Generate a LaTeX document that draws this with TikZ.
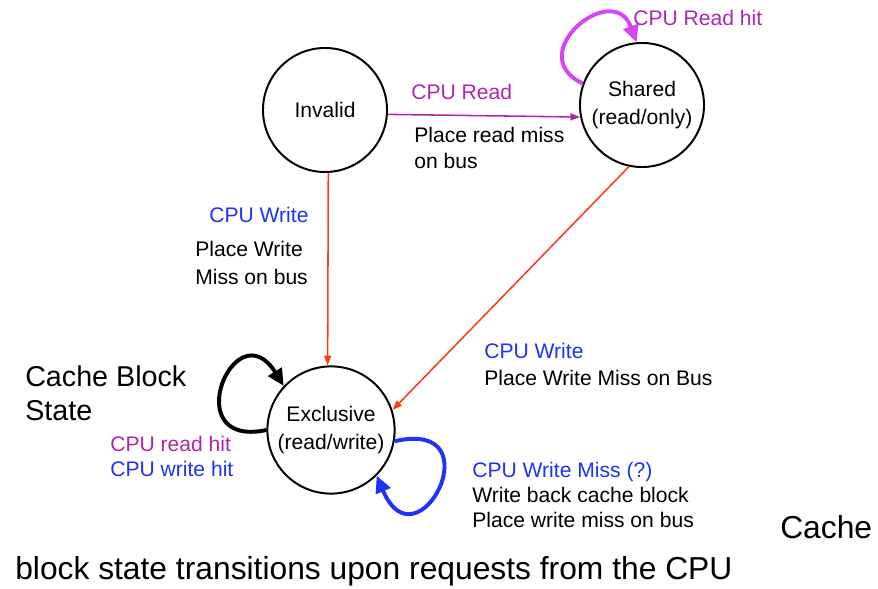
\documentclass[tikz,border=0pt]{standalone}
\usepackage{fontspec}
\setmainfont{Liberation Sans}
\usetikzlibrary{arrows.meta}
\definecolor{cpupurple}{RGB}{170,40,170}
\definecolor{loopmagenta}{RGB}{215,70,245}
\definecolor{cpublue}{RGB}{30,50,250}
\definecolor{busred}{RGB}{250,60,30}
\tikzset{
	state/.style={circle, draw, line width=1.4pt, minimum size=3.1cm, inner sep=0pt, align=center, font=\fontsize{15}{19.5}\selectfont},
	lbl/.style={anchor=base west, inner sep=0pt, font=\fontsize{15}{18}\selectfont},
	biglbl/.style={anchor=base west, inner sep=0pt, font=\fontsize{20.4}{24}\selectfont},
	captionlbl/.style={anchor=base west, inner sep=0pt, font=\fontsize{22.6}{26}\selectfont},
	busarrow/.style={-{Triangle[length=7pt,width=5pt]}, line width=1.1pt},
	hitloop/.style={-{Triangle[length=12pt,width=11pt]}, line width=2.8pt}
}
\begin{document}
\begin{tikzpicture}[x=0.025cm, y=-0.025cm]
			\useasboundingbox (0, 0) rectangle (878, 589);
			%%draw the states
			\node[state] (inv) at (325, 110){Invalid};
			\node[state] (shr) at (642, 105){Shared\\(read/only)};
			\node[state, minimum size=3.18cm, font=\fontsize{15}{20}\selectfont] (exc) at (331, 430){Exclusive\\(read/write)};

			%%draw the transitions
			\draw[busarrow, cpupurple] (inv.-4) to (shr.191);
			\draw[busarrow, busred] (inv.-87) to (exc.93);
			\draw[busarrow, busred] (shr.-102) to (exc.18);

			%%draw the loops
			\draw[hitloop, loopmagenta] (shr.160) .. controls +(155:1.7cm) and +(110:1.7cm) .. (shr.95);
			\draw[hitloop, black] (exc.180) .. controls +(192:2.3cm) and +(122:2.3cm) .. (exc.137);
			\draw[hitloop, cpublue] (exc.-10) .. controls +(13:2.6cm) and +(-67:2.6cm) .. (exc.-45);

			%%invalid to shared
			\node[lbl, cpupurple] (rdlbl) at (411, 100){CPU Read};
			\node[lbl] (rdmiss1) at (414, 143){Place read miss};
			\node[lbl] (rdmiss2) at (414, 169){on bus};
			%%shared loop
			\node[lbl, cpupurple] (rdhit) at (633, 26){CPU Read hit};
			%%invalid to exclusive
			\node[lbl, cpublue] (wrlbl1) at (209, 223){CPU Write};
			\node[lbl] (wrmiss1) at (195, 257){Place Write};
			\node[lbl] (wrmiss2) at (195, 284){Miss on bus};
			%%shared to exclusive
			\node[lbl, cpublue] (wrlbl2) at (484, 358){CPU Write};
			\node[lbl] (wrmiss3) at (484, 385){Place Write Miss on Bus};
			%%exclusive loops
			\node[lbl, cpupurple] (exrdhit) at (110, 451){CPU read hit};
			\node[lbl, cpublue] (exwrhit) at (110, 476){CPU write hit};
			\node[lbl, cpublue] (exwrmiss) at (472, 477){CPU Write Miss (?)};
			\node[lbl] (wback) at (472, 502){Write back cache block};
			\node[lbl] (wplace) at (472, 527){Place write miss on bus};

			%%captions
			\node[biglbl] (cb1) at (25, 386){Cache Block};
			\node[biglbl] (cb2) at (25, 420){State};
			\node[captionlbl] (cap1) at (780, 538){Cache};
			\node[captionlbl] (cap2) at (15, 579){block state transitions upon requests from the CPU};
\end{tikzpicture}
\end{document}
